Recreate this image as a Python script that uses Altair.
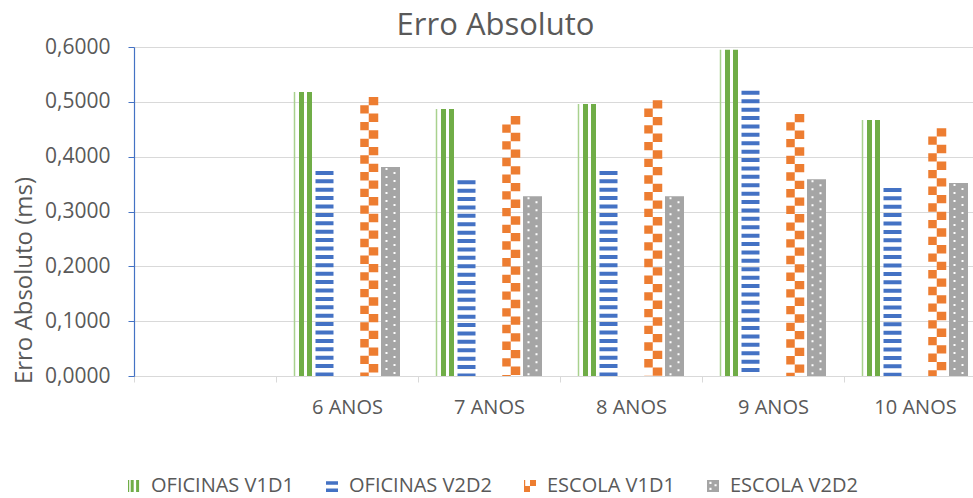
import altair as alt
import pandas as pd

# ---------------- data ----------------
categories = ["", "6 ANOS", "7 ANOS", "8 ANOS", "9 ANOS", "10 ANOS"]
ages = ["6 ANOS", "7 ANOS", "8 ANOS", "9 ANOS", "10 ANOS"]
series = ["OFICINAS V1D1", "OFICINAS V2D2", "ESCOLA V1D1", "ESCOLA V2D2"]
oficinas_v1d1 = [0.518, 0.487, 0.496, 0.595, 0.467]
oficinas_v2d2 = [0.374, 0.357, 0.374, 0.520, 0.343]
escola_v1d1 = [0.509, 0.474, 0.503, 0.478, 0.452]
escola_v2d2 = [0.381, 0.328, 0.328, 0.359, 0.352]
y_ticks = [0.0, 0.1, 0.2, 0.3, 0.4, 0.5, 0.6]

rows = []
for name, vals in zip(series, [oficinas_v1d1, oficinas_v2d2, escola_v1d1, escola_v2d2]):
    for a, v in zip(ages, vals):
        rows.append({"idade": a, "serie": name, "valor": v})
df = pd.DataFrame(rows)

# ---------------- style ----------------
FONT = "Open Sans"
TXT = "#595959"
GREEN = "#70ad47"
GREEN_L = "#a9d18e"
BLUE = "#4472c4"
ORANGE = "#ed7d31"
GRAY = "#a5a5a5"

SLOT = 22                      # sub-bands per series slot
slot_of = {series[0]: 0, series[1]: 1, series[2]: 3, series[3]: 4}
# sub-band keys, including empty ones on both sides as padding inside each category
xoff_scale = alt.Scale(domain=list(range(-17, 125)), paddingInner=0, paddingOuter=0)

x_enc = alt.X(
    "idade:N",
    scale=alt.Scale(domain=categories, range=[0, 852], paddingInner=0, paddingOuter=0),
    axis=alt.Axis(
        title=None, labelFont=FONT, labelFontSize=20, labelColor=TXT, labelPadding=15,
        domainColor="#d9d9d9", tickColor="#d9d9d9", tickSize=6, tickBand="extent",
        labelAngle=0, grid=False,
    ),
)
y_enc = alt.Y(
    "valor:Q",
    scale=alt.Scale(domain=[0, 0.6], nice=False, zero=True),
    axis=alt.Axis(
        values=y_ticks,
        labelExpr="replace(format(datum.value, '.4f'), '.', ',')",
        labelFont=FONT, labelFontSize=21, labelColor=TXT, labelPadding=18,
        domainColor=BLUE, domainWidth=1.2, tickColor=BLUE, tickSize=6,
        gridColor="#d9d9d9", gridWidth=1,
        title="Erro Absoluto  (ms)", titleFont=FONT, titleFontSize=24, titleColor=TXT,
        titleFontWeight="normal", titleAngle=-90, titleAlign="center",
        titleBaseline="alphabetic", titleX=-103, titleY=233,
    ),
)

base = alt.Chart(df)


def stripe(serie, sub, width, color, dash=None, dash_offset=None):
    key = slot_of[serie] * SLOT + sub
    kw = dict(color=color, strokeWidth=width, strokeCap="butt")
    if dash is not None:
        kw["strokeDash"] = dash
    if dash_offset is not None:
        kw["strokeDashOffset"] = dash_offset
    return (
        base.mark_rule(**kw)
        .transform_filter(alt.datum.serie == serie)
        .transform_calculate(k=str(key))
        .encode(
            x=x_enc,
            y=y_enc,
            y2=alt.datum(0),
            xOffset=alt.XOffset("k:O", scale=xoff_scale),
        )
    )


layers = [
    # OFICINAS V1D1 : wide vertical stripes
    stripe(series[0], 1, 1.5, GREEN_L),
    stripe(series[0], 8, 5, GREEN),
    stripe(series[0], 16, 5, GREEN),
    # OFICINAS V2D2 : horizontal stripes
    stripe(series[1], 9, 18, BLUE, dash=[4, 4.4]),
    # ESCOLA V1D1 : checkerboard
    stripe(series[2], 5, 8.5, ORANGE, dash=[8.35, 8.35], dash_offset=8.35),
    stripe(series[2], 14, 9.5, ORANGE, dash=[8.35, 8.35]),
    # ESCOLA V2D2 : gray with white dots
    stripe(series[3], 9, 19, GRAY),
    stripe(series[3], 5, 2, "white", dash=[2, 6], dash_offset=-1),
    stripe(series[3], 13, 2, "white", dash=[2, 6], dash_offset=-5),
]

# legend with patterned symbols
paths = [
    "M-1,-1H-0.8V1H-1Z M-0.55,-1H-0.05V1H-0.55Z M0.35,-1H0.85V1H0.35Z",
    "M-1,-0.8H1V-0.2H-1Z M-1,0.4H1V1H-1Z",
    "M0,-1H1V0H0Z M-1,0H0V1H-1Z M-1,-1H-0.8V0H-1Z",
    "M-1,-1H1V1H-1Z M-0.6,-0.7V-0.35H-0.25V-0.7Z M0.25,-0.3V0.05H0.6V-0.3Z "
    "M-0.6,0.3V0.65H-0.25V0.3Z",
]
legend = alt.Legend(
    title=None, orient="none", legendX=-10, legendY=429, direction="horizontal",
    labelFont=FONT, labelFontSize=20, labelColor=TXT, labelOffset=7,
    symbolSize=144, symbolStrokeWidth=0, symbolOpacity=1, columnPadding=28,
)
legend_layer = base.mark_point(filled=True, opacity=0).encode(
    x=x_enc,
    y=y_enc,
    color=alt.Color("serie:N", scale=alt.Scale(domain=series, range=[GREEN, BLUE, ORANGE, GRAY]), legend=legend),
    shape=alt.Shape("serie:N", scale=alt.Scale(domain=series, range=paths), legend=legend),
)

chart = (
    alt.layer(*layers, legend_layer)
    .properties(
        width=839,
        height=329,
        title=alt.TitleParams(
            "Erro Absoluto", font=FONT, fontSize=31, color=TXT, fontWeight="normal",
            anchor="middle", frame="group", dx=-58, dy=10, offset=4,
        ),
        autosize=alt.AutoSizeParams(type="none"),
        padding={"left": 134, "top": 47, "right": 0, "bottom": 122},
    )
    .configure_view(stroke=None)
    .configure(background="white")
)

chart.save("out.html", embed_options={"renderer": "svg", "actions": False})
